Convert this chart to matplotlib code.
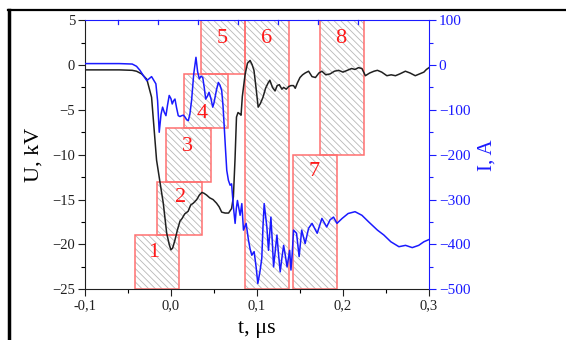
import matplotlib
matplotlib.use("Agg")
import matplotlib.pyplot as plt
from matplotlib.patches import Rectangle
from matplotlib.ticker import MultipleLocator, FixedLocator, FixedFormatter
from matplotlib.lines import Line2D

plt.rcParams['font.family'] = ['Liberation Serif', 'DejaVu Serif']
plt.rcParams['hatch.linewidth'] = 0.6
plt.rcParams['hatch.color'] = '#b8b8b8'

# voltage, kV
t_u = [-0.1, -0.06, -0.045, -0.04, -0.034, -0.028, -0.0225, -0.0167, -0.0125, -0.0089,
       -0.005, -0.002, 0.0, 0.002, 0.0047, 0.0075, 0.0105, 0.013, 0.016, 0.02, 0.023, 0.026,
       0.03, 0.033, 0.036, 0.0385, 0.0415, 0.045, 0.049, 0.053, 0.056, 0.059, 0.063, 0.067,
       0.0705, 0.0726, 0.0745, 0.0762, 0.078, 0.080, 0.0815, 0.083, 0.0863, 0.089, 0.092,
       0.0945, 0.0965, 0.0985, 0.1014, 0.104, 0.107, 0.110, 0.113, 0.115, 0.118, 0.121,
       0.1235, 0.126, 0.129, 0.131, 0.134, 0.137, 0.1395, 0.1425, 0.1445, 0.147, 0.15,
       0.153, 0.156, 0.16, 0.164, 0.168, 0.172, 0.1755, 0.18, 0.185, 0.19, 0.195, 0.2,
       0.205, 0.21, 0.214, 0.218, 0.222, 0.226, 0.231, 0.236, 0.24, 0.245, 0.251, 0.256,
       0.261, 0.266, 0.2725, 0.278, 0.284, 0.289, 0.294, 0.297, 0.3]
u_kv = [-0.55, -0.55, -0.6, -0.7, -1.0, -1.6, -3.6, -10.6, -13.2, -15.4,
        -18.7, -20.0, -20.6, -20.4, -19.5, -18.4, -17.4, -17.1, -16.6, -16.3, -15.6, -15.4,
        -15.0, -14.5, -14.2, -14.3, -14.5, -14.8, -15.0, -15.4, -15.8, -16.4, -16.5, -16.5,
        -16.0, -14.7, -10.5, -5.8, -5.3, -5.45, -5.6, -3.5, -1.0, 0.2, 0.5,
        0.0, -0.6, -2.2, -4.7, -4.3, -3.6, -2.6, -2.0, -1.7, -2.5, -2.9,
        -2.3, -2.2, -2.7, -2.5, -2.7, -2.4, -2.3, -2.3, -2.6, -2.0, -1.4,
        -1.1, -0.9, -0.7, -1.3, -1.4, -0.9, -0.7, -1.1, -1.0, -0.7, -0.6, -0.8,
        -0.6, -0.4, -0.5, -0.3, -0.4, -1.2, -0.9, -0.7, -0.6, -0.8, -1.2, -1.1,
        -1.2, -1.0, -0.7, -0.9, -1.2, -1.0, -0.8, -0.5, -0.3]

# current, A
t_i = [-0.1, -0.06, -0.045, -0.04, -0.036, -0.032, -0.028, -0.0225, -0.0175, -0.0155,
       -0.0136, -0.0115, -0.0097, -0.0078, -0.0058, -0.004, -0.002, 0.0, 0.0015, 0.003,
       0.0047, 0.0065, 0.0085, 0.0105, 0.0125, 0.0145, 0.0163, 0.0183, 0.0202, 0.022,
       0.024, 0.0265, 0.0291, 0.031, 0.033, 0.035, 0.037, 0.0387, 0.0404, 0.0423, 0.0443,
       0.0465, 0.0486, 0.05, 0.0513, 0.053, 0.0551, 0.057, 0.059, 0.0605, 0.062, 0.0635,
       0.0649, 0.0668, 0.0688, 0.0705, 0.0726, 0.0746, 0.076, 0.0773, 0.079, 0.0804,
       0.0824, 0.0843, 0.0874, 0.0901, 0.092, 0.094, 0.0967, 0.099, 0.101, 0.1035,
       0.1056, 0.107, 0.1084, 0.1115, 0.1134, 0.1162, 0.118, 0.1193, 0.1215, 0.1232,
       0.125, 0.127, 0.129, 0.131, 0.133, 0.135, 0.138, 0.1395, 0.141, 0.1425, 0.146,
       0.149, 0.152, 0.156, 0.16, 0.164, 0.17, 0.1755, 0.181, 0.185, 0.189, 0.193, 0.199,
       0.206, 0.214, 0.222, 0.23, 0.24, 0.2475, 0.2556, 0.265, 0.2727, 0.2805, 0.288,
       0.294, 0.3]
i_a = [3, 3, 2, -3, -12, -24, -35, -26, -42, -80,
       -150, -110, -94, -105, -113, -90, -68, -75, -87, -80,
       -76, -95, -113, -115, -113, -112, -116, -122, -124, -110,
       -79, -20, 17, -15, -31, -25, -28, -50, -76, -70, -61,
       -75, -94, -85, -72, -55, -39, -45, -57, -90, -139, -190,
       -235, -257, -268, -265, -316, -353, -320, -302, -320, -335,
       -309, -368, -353, -390, -410, -424, -416, -450, -487, -460,
       -431, -360, -309, -361, -413, -339, -400, -450, -410, -379,
       -420, -461, -430, -402, -425, -450, -413, -457, -420, -368, -375,
       -427, -368, -398, -364, -353, -375, -342, -361, -345, -339, -353, -342,
       -331, -327, -335, -350, -368, -379, -394, -405, -402, -407, -402,
       -394, -389]

# hatched zones (in kV axis units)
zone_names = ['1', '2', '3', '4', '5', '6', '7', '8']
zone_t0 = [-0.042, -0.016, -0.006, 0.015, 0.0346, 0.086, 0.1414, 0.173]
zone_t1 = [0.0093, 0.0365, 0.0466, 0.0668, 0.086, 0.1375, 0.193, 0.224]
zone_u0 = [-25, -19, -13, -7, -1, -25, -25, -10]
zone_u1 = [-19, -13, -7, -1, 5, 5, -10, 5]
name_t = [-0.02, 0.011, 0.019, 0.0367, 0.0595, 0.1115, 0.166, 0.197]
name_u = [-20.9, -14.8, -9.1, -5.4, 2.9, 2.9, -11.9, 3.0]

blue = '#1a1aff'

fig = plt.figure(figsize=(5.66, 3.40), dpi=100)
ax = fig.add_axes([0.150, 0.149, 0.608, 0.792])
ax2 = ax.twinx()

for k in range(len(zone_names)):
    w = zone_t1[k] - zone_t0[k]
    h = zone_u1[k] - zone_u0[k]
    ax.add_patch(Rectangle((zone_t0[k], zone_u0[k]), w, h, facecolor='none',
                           edgecolor='#b8b8b8', hatch='\\\\\\\\\\', linewidth=0, zorder=1))
    ax.add_patch(Rectangle((zone_t0[k], zone_u0[k]), w, h, facecolor='none',
                           edgecolor='#ff7070', linewidth=1.1, zorder=2))
    ax.text(name_t[k], name_u[k], zone_names[k], color='#ff1a1a', fontsize=16,
            ha='center', va='center', zorder=5)

ax.plot(t_u, u_kv, color='#202020', linewidth=1.1, zorder=4)
ax2.plot(t_i, i_a, color=blue, linewidth=1.1, zorder=3)

ax.set_xlim(-0.1, 0.3)
ax.set_ylim(-25, 5)
ax2.set_ylim(-500, 100)

ax.xaxis.set_major_locator(FixedLocator([-0.1, 0.0, 0.1, 0.2, 0.3]))
ax.xaxis.set_major_formatter(FixedFormatter(['-0,1', '0,0', '0,1', '0,2', '0,3']))
ax.xaxis.set_minor_locator(MultipleLocator(0.05))
ax.yaxis.set_major_locator(MultipleLocator(5))
ax.yaxis.set_minor_locator(MultipleLocator(2.5))
ax2.yaxis.set_major_locator(MultipleLocator(100))
ax2.yaxis.set_minor_locator(MultipleLocator(50))

ax.tick_params(axis='both', which='major', direction='out', length=5, width=0.8,
               labelsize=10.5, colors='#202020', pad=2)
ax.tick_params(axis='both', which='minor', direction='out', length=3, width=0.8)
ax.tick_params(axis='x', which='both', top=False)
ax2.tick_params(axis='y', which='major', direction='out', length=5, width=0.8,
                labelsize=11, colors=blue, pad=2)
ax2.tick_params(axis='y', which='minor', direction='out', length=3, width=0.8, colors=blue)

for s in ['left', 'bottom']:
    ax.spines[s].set_color('#202020')
ax2.spines['right'].set_color(blue)
ax2.spines['top'].set_color(blue)
ax2.spines['left'].set_visible(False)
ax2.spines['bottom'].set_visible(False)
ax.spines['right'].set_visible(False)
ax.spines['top'].set_visible(False)

# small tick marks under the top spine
for tx in [-0.0614, -0.0148, 0.032, 0.078, 0.125, 0.171, 0.218]:
    ax.plot([tx, tx], [5, 4.6], color=blue, linewidth=0.9, zorder=6, clip_on=False)

ax.set_ylabel('U, kV', fontsize=16, labelpad=6)
ax2.set_ylabel('I, A', fontsize=15, color=blue, labelpad=5)
ax.set_xlabel('t, μs', fontsize=16, labelpad=5)

# page frame around the figure
fig.add_artist(Line2D([9 / 566, 9 / 566], [0, 1 - 10 / 340], transform=fig.transFigure,
                      color='black', linewidth=2.5))
fig.add_artist(Line2D([8 / 566, 1], [1 - 10 / 340, 1 - 10 / 340], transform=fig.transFigure,
                      color='black', linewidth=1.6))

fig.savefig('out.png', dpi=100)
